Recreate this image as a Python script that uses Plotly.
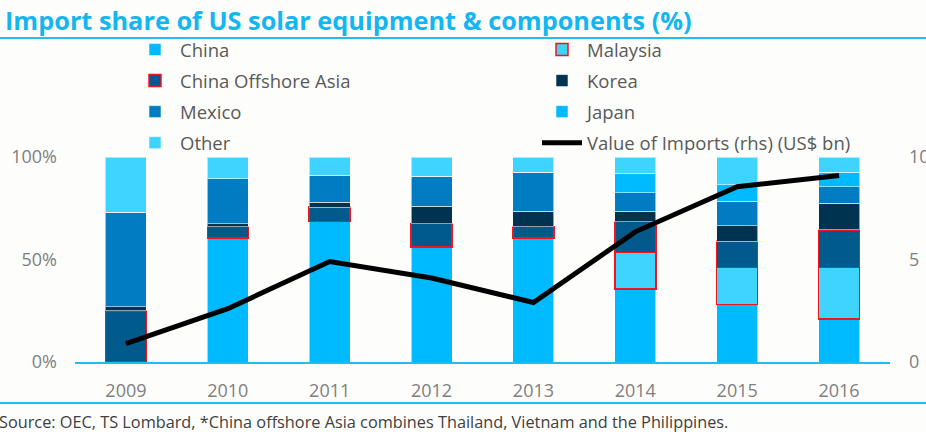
import plotly.graph_objects as go

years = ["2009", "2010", "2011", "2012", "2013", "2014", "2015", "2016"]
china = [0, 60.5, 68.5, 56, 60.5, 35.5, 28, 21]
malaysia = [0, 0, 0, 0, 0, 18, 18, 25]
offshore = [25, 5.5, 7, 11.5, 5.5, 15, 13, 18.5]
korea = [2, 1.5, 2.5, 8.5, 7.5, 5, 7.5, 13]
mexico = [46, 22, 13, 14.5, 19, 9, 12, 8]
japan = [0, 0, 0, 0, 0, 9.5, 8, 7]
other = [27, 10.5, 9, 9.5, 7.5, 8, 13.5, 7.5]
imports_bn = [0.9, 2.6, 4.9, 4.1, 2.9, 6.35, 8.55, 9.1]
left_ticks = ["0%", "50%", "100%"]
right_ticks = ["0", "5", "10"]

FONT = "Open Sans, Liberation Sans, Arial, sans-serif"
BG = "#FDFDFB"
BLUE_LINE = "#1EBEF5"
RED = "#F0141E"
LIGHT_EDGE = "rgba(255,255,255,0.55)"

series = [
    ("China", china, "#00BAFF", LIGHT_EDGE, 1, "legend"),
    ("Malaysia", malaysia, "#3FD3FF", RED, 1.5, "legend2"),
    ("China Offshore Asia", offshore, "#005A8C", RED, 1.5, "legend"),
    ("Korea", korea, "#00334F", LIGHT_EDGE, 1, "legend2"),
    ("Mexico", mexico, "#007CC3", LIGHT_EDGE, 1, "legend"),
    ("Japan", japan, "#00BAFF", LIGHT_EDGE, 1, "legend2"),
    ("Other", other, "#3FD3FF", LIGHT_EDGE, 1, "legend"),
]

fig = go.Figure()
for name, vals, color, lcolor, lw, lg in series:
    fig.add_trace(go.Bar(
        x=years, y=vals, name=name, legendgroup=name, legend=lg,
        marker=dict(color=color, line=dict(color=lcolor, width=lw)),
    ))

fig.add_trace(go.Scatter(
    x=years, y=imports_bn, name="Value of Imports (rhs) (US$ bn)",
    legendgroup="value", legend="legend2", yaxis="y2", mode="lines",
    line=dict(color="black", width=5),
))

legend_common = dict(
    orientation="v", traceorder="grouped", tracegroupgap=4,
    font=dict(family=FONT, size=18.5, color="#595959"),
    bgcolor="rgba(0,0,0,0)", borderwidth=0, itemwidth=40,
    xref="paper", yref="paper", xanchor="left", yanchor="top",
    itemclick=False, itemdoubleclick=False,
)

fig.update_layout(
    width=926, height=432,
    margin=dict(l=75, r=36, t=157, b=70, autoexpand=False),
    paper_bgcolor=BG, plot_bgcolor=BG,
    barmode="stack", bargap=0.598,
    title=dict(
        text="<b>Import share of US solar equipment & components (%)</b>",
        font=dict(family=FONT, size=25.3, color="#14B6F2"),
        x=5 / 926, xanchor="left", xref="container",
        y=1 - 21 / 432, yanchor="middle", yref="container",
    ),
    xaxis=dict(
        type="category", showgrid=False, zeroline=False, automargin=False,
        showline=True, linecolor=BLUE_LINE, linewidth=2,
        ticks="", ticklabelstandoff=11,
        tickfont=dict(family=FONT, size=18, color="#7F7F7F"),
    ),
    yaxis=dict(
        range=[0, 100], tickmode="array", tickvals=[0, 50, 100], ticktext=left_ticks,
        showgrid=False, zeroline=False, showline=False, ticks="", automargin=False,
        ticklabelstandoff=17,
        tickfont=dict(family=FONT, size=18, color="#7F7F7F"),
    ),
    yaxis2=dict(
        range=[0, 10], tickmode="array", tickvals=[0, 5, 10], ticktext=right_ticks,
        overlaying="y", side="right", automargin=False,
        showgrid=False, zeroline=False, showline=False, ticks="",
        ticklabelstandoff=18,
        tickfont=dict(family=FONT, size=18, color="#7F7F7F"),
    ),
    legend=dict(x=(130 - 75) / 815, y=(362 - 31) / 205, **legend_common),
    legend2=dict(x=(537 - 75) / 815, y=(362 - 31) / 205, **legend_common),
    shapes=[
        dict(type="line", xref="paper", yref="paper",
             x0=-75 / 815, x1=(926 - 75) / 815,
             y0=(362 - 38) / 205, y1=(362 - 38) / 205,
             line=dict(color=BLUE_LINE, width=2)),
        dict(type="line", xref="paper", yref="paper",
             x0=-75 / 815, x1=(926 - 75) / 815,
             y0=(362 - 403) / 205, y1=(362 - 403) / 205,
             line=dict(color=BLUE_LINE, width=2)),
    ],
    annotations=[
        dict(text="Source: OEC, TS Lombard, *China offshore Asia combines Thailand, Vietnam and the Philippines.",
             xref="paper", yref="paper", x=(-3 - 75) / 815, y=(362 - 422) / 205,
             xanchor="left", yanchor="middle", showarrow=False,
             font=dict(family=FONT, size=16.3, color="#404040")),
    ],
    showlegend=True,
)

fig.write_html(
    "out.html",
    config={"displayModeBar": False},
    post_script="document.body.style.margin='0';document.body.style.padding='0';document.body.style.overflow='hidden';",
)
